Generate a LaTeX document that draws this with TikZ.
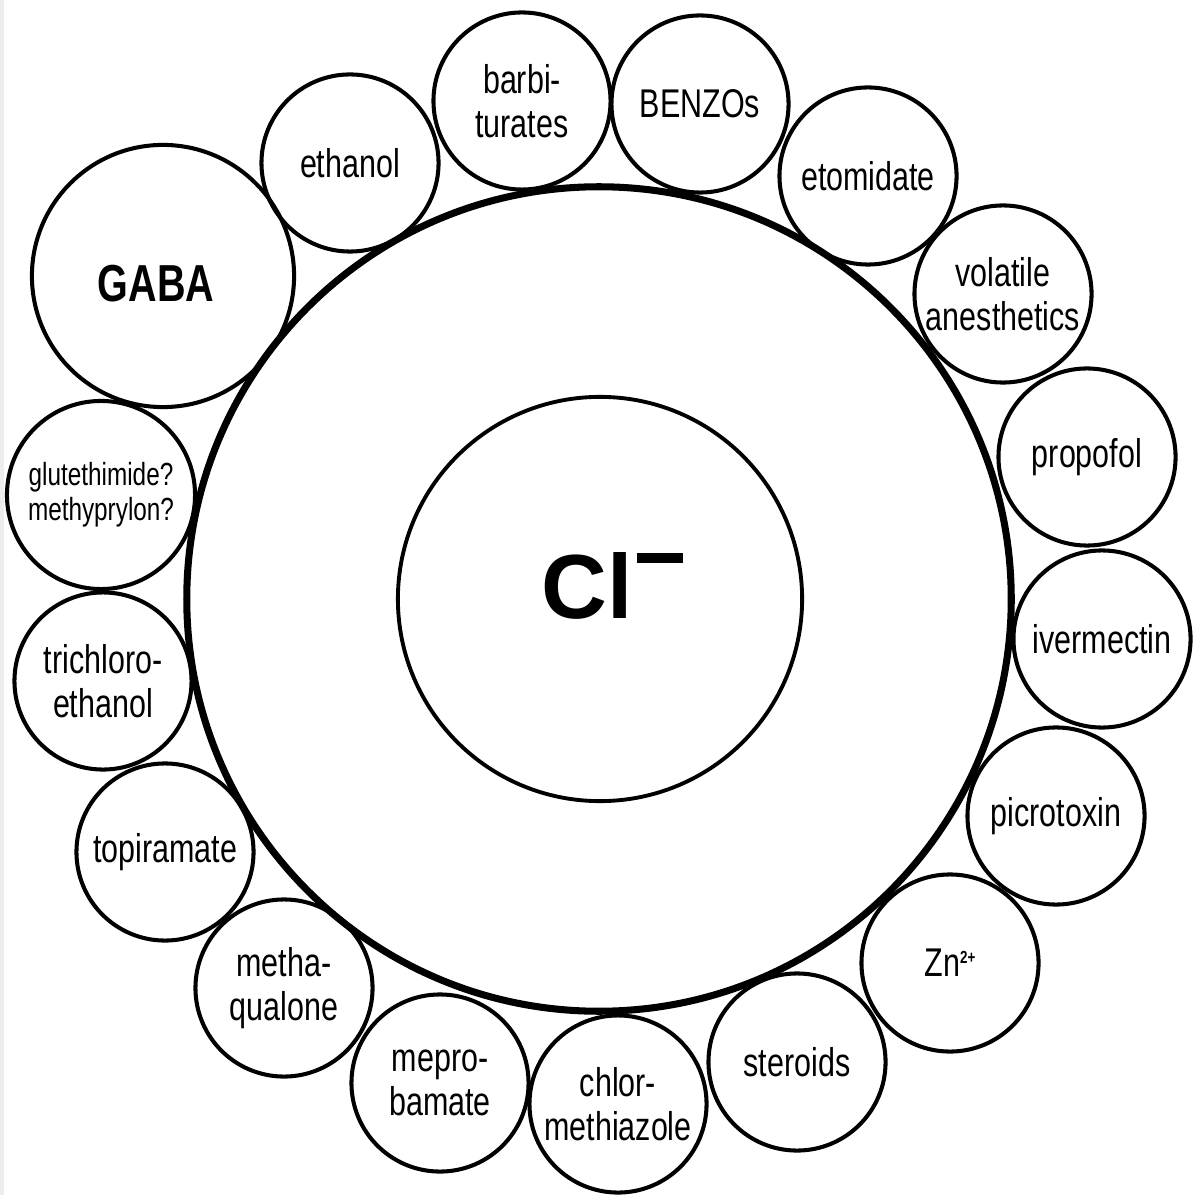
\documentclass[tikz,border=0pt]{standalone}
\usepackage{fontspec}
\setmainfont{Liberation Sans}[FakeStretch=0.76]
\newfontfamily\ionfont{Liberation Sans}
\usepackage{tikz}

\begin{document}
\begin{tikzpicture}[x = 0.01cm, y = -0.01cm,
		site/.style = {circle, draw, line width = 1.15pt, inner sep = 0pt, align = center,
			minimum size = #1, font = \fontsize{11.4}{12.5}\selectfont},
		site/.default = 1.77cm]
	\useasboundingbox (0,0) rectangle (1193,1195);
	\fill[black!7] (0,0) rectangle (4,1195);

	% receptor and its pore
	\node[circle, draw, line width = 2pt, minimum size = 8.24cm] (channel) at (599,599) {};
	\node[circle, draw, line width = 1.1pt, minimum size = 4.04cm] (pore) at (600,599) {};
	\node[anchor = base west, inner sep = 0pt] (cl) at (541,618)
		{\ionfont\fontsize{25.9}{26}\selectfont\bfseries Cl\hspace{0.04cm}\rule[0.55cm]{0.46cm}{0.10cm}};

	% binding sites round the channel
	\node[site = 2.62cm, font = \fontsize{14.8}{15}\selectfont\bfseries, text height = 0.52cm]
		(gaba) at (163,276) {GABA\hspace*{0.14cm}};
	\node[site] (ethanol) at (350,163) {ethanol};
	\node[site] (barb) at (522,101) {barbi-\\turates};
	\node[site] (benzo) at (700,104) {BENZOs};
	\node[site] (etom) at (868,176) {etomidate};
	\node[site] (volat) at (1003,294) {volatile\\anesthetics};
	\node[site] (propofol) at (1087,457) {propofol};
	\node[site] (iverm) at (1102,639) {ivermectin};
	\node[site] (picro) at (1056,816) {picrotoxin};
	\node[site] (zinc) at (950,963) {Zn\raisebox{0.13cm}{\fontsize{5}{6}\selectfont\bfseries 2+}};
	\node[site] (steroid) at (797,1062) {steroids};
	\node[site] (chlor) at (618,1104) {chlor-\\methiazole};
	\node[site] (mepro) at (440,1083) {mepro-\\bamate};
	\node[site] (metha) at (284,988) {metha-\\qualone};
	\node[site] (topir) at (165,852) {topiramate};
	\node[site] (trichl) at (103,681) {trichloro-\\ethanol};
	\node[site = 1.88cm, font = \fontsize{9.1}{10}\selectfont] (gluteth) at (101,495) {glutethimide?\\methyprylon?};
\end{tikzpicture}
\end{document}
